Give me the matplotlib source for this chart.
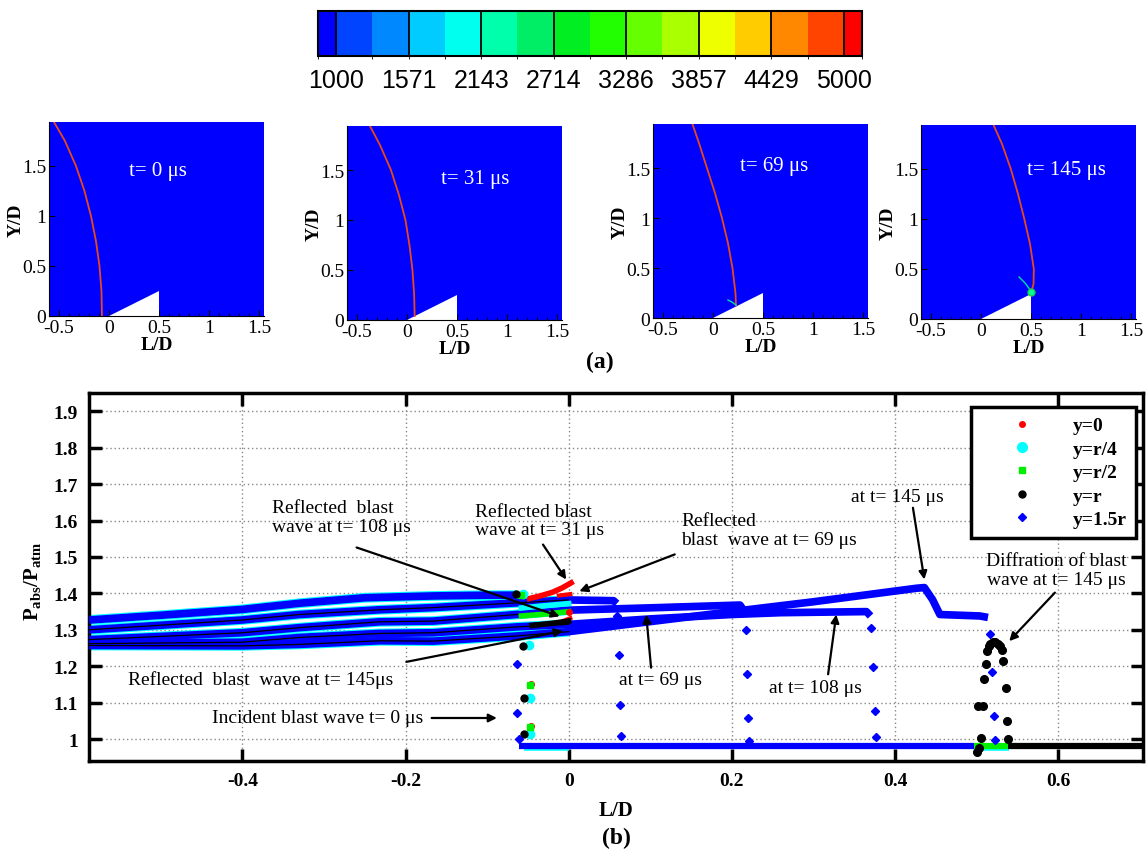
import numpy as np
import matplotlib
matplotlib.use('Agg')
import matplotlib.pyplot as plt
from matplotlib.colors import ListedColormap, BoundaryNorm
from matplotlib.cm import ScalarMappable
from matplotlib.lines import Line2D

plt.rcParams['font.family'] = 'serif'
plt.rcParams['font.serif'] = ['Liberation Serif', 'DejaVu Serif']
plt.rcParams['mathtext.fontset'] = 'custom'
plt.rcParams['mathtext.rm'] = 'Liberation Serif'
plt.rcParams['mathtext.bf'] = 'Liberation Serif:bold'
plt.rcParams['mathtext.it'] = 'Liberation Serif:italic'

# ---- (a) contour legend -------------------------------------------------
cbar_ticks = [1000, 1571, 2143, 2714, 3286, 3857, 4429, 5000]
cbar_colors = ['#0000ff', '#0044ff', '#0088ff', '#00ccff', '#00ffee', '#00ffaa',
               '#00ee66', '#00ee22', '#22ff00', '#66ff00', '#aaff00', '#eeff00',
               '#ffcc00', '#ff8800', '#ff4400', '#ff0000']

# ---- (a) shock front position (L/D, Y/D) in the four snapshots ----------
panel_labels = ['t= 0 μs', 't= 31 μs', 't= 69 μs', 't= 145 μs']
shock0_x = [-0.07, -0.075, -0.095, -0.13, -0.18, -0.245, -0.33, -0.44, -0.55]
shock0_y = [0.0, 0.25, 0.5, 0.75, 1.0, 1.25, 1.5, 1.75, 1.94]
shock31_x = [0.077, 0.072, 0.055, 0.025, -0.015, -0.08, -0.16, -0.27, -0.37]
shock31_y = [0.04, 0.25, 0.5, 0.75, 1.0, 1.25, 1.5, 1.75, 1.94]
shock69_x = [0.23, 0.225, 0.195, 0.15, 0.09, 0.02, -0.06, -0.14, -0.205]
shock69_y = [0.125, 0.25, 0.5, 0.75, 1.0, 1.25, 1.5, 1.75, 1.94]
shock145_x = [0.50, 0.525, 0.528, 0.49, 0.433, 0.37, 0.298, 0.21, 0.125]
shock145_y = [0.26, 0.35, 0.5, 0.75, 1.0, 1.25, 1.5, 1.75, 1.94]
refl69_x = [0.15, 0.19, 0.23]
refl69_y = [0.18, 0.16, 0.13]
refl145_x = [0.38, 0.44, 0.50]
refl145_y = [0.42, 0.36, 0.28]
wedge_x = [0.0, 0.5, 0.5]
wedge_y = [0.0, 0.0, 0.25]

# ---- (b) pressure along y=1.5r behind the blast wave --------------------
x_t0 = [-0.588, -0.50, -0.40, -0.33, -0.25, -0.166, -0.10, -0.064]
p_t0 = [1.327, 1.340, 1.356, 1.373, 1.388, 1.393, 1.395, 1.395]
x_t31 = [-0.588, -0.40, -0.33, -0.232, -0.166, -0.064, 0.0, 0.055, 0.059]
p_t31 = [1.300, 1.327, 1.342, 1.355, 1.361, 1.374, 1.382, 1.380, 1.372]
x_t69 = [-0.588, -0.40, -0.33, -0.232, -0.166, -0.064, 0.0, 0.095, 0.210, 0.215]
p_t69 = [1.273, 1.292, 1.306, 1.322, 1.324, 1.342, 1.354, 1.360, 1.368, 1.352]
x_t108 = [-0.588, -0.40, -0.33, -0.232, -0.166, -0.064, 0.0, 0.10, 0.20, 0.26, 0.365, 0.370]
p_t108 = [1.262, 1.266, 1.279, 1.290, 1.292, 1.308, 1.315, 1.330, 1.342, 1.347, 1.350, 1.338]
x_t145 = [-0.588, -0.40, -0.33, -0.232, -0.166, -0.064, 0.0, 0.20, 0.30, 0.426,
          0.436, 0.446, 0.455, 0.504, 0.514]
p_t145 = [1.257, 1.256, 1.260, 1.270, 1.269, 1.283, 1.295, 1.350, 1.377, 1.414,
          1.416, 1.383, 1.342, 1.338, 1.334]

# shock jumps (isolated points) for y=1.5r
blue_dot_x = [-0.0635, -0.063, -0.0615, 0.0597, 0.0613, 0.0625, 0.0646,
              0.217, 0.218, 0.220, 0.221, 0.371, 0.373, 0.375, 0.377,
              0.517, 0.519, 0.521, 0.523]
blue_dot_p = [1.207, 1.072, 1.000, 1.338, 1.230, 1.094, 1.009,
              1.300, 1.180, 1.058, 0.995, 1.304, 1.199, 1.076, 1.005,
              1.288, 1.183, 1.064, 0.998]
blue_amb_x = [-0.061, 0.497]
blue_amb_p = [0.982, 0.982]

# y=0 (red)
red_x = [-0.048, -0.035, -0.02, -0.008, 0.003]
red_p = [1.386, 1.393, 1.403, 1.415, 1.429]
red2_x = [-0.012, 0.002]
red2_p = [1.394, 1.398]
red3_x = [-0.006, 0.002]
red3_p = [1.325, 1.332]
red_dot_x = [-0.046, -0.046, 0.0]
red_dot_p = [1.152, 1.037, 1.348]

# y=r/4 (cyan)
cyan_x = [-0.058, -0.03, 0.0]
cyan_p = [1.360, 1.366, 1.372]
cyan_amb_x = [-0.055, 0.0]
cyan_amb_p = [0.976, 0.976]
cyan_amb2_x = [0.497, 0.54]
cyan_amb2_p = [0.975, 0.975]
cyan_dot_x = [-0.056, -0.049, -0.047, -0.047]
cyan_dot_p = [1.397, 1.258, 1.112, 1.014]

# y=r/2 (green)
green_x = [-0.058, -0.03, 0.0]
green_p = [1.338, 1.343, 1.350]
green_amb_x = [0.497, 0.538]
green_amb_p = [0.981, 0.981]
green_dot_x = [-0.058, -0.048, -0.047]
green_dot_p = [1.396, 1.148, 1.032]

# y=r (black)
black_x = [-0.045, -0.02, 0.0]
black_p = [1.312, 1.318, 1.324]
black_amb_x = [0.538, 0.704]
black_amb_p = [0.981, 0.981]
black_dot_x = [-0.064, -0.056, -0.055, -0.055]
black_dot_p = [1.397, 1.256, 1.112, 1.014]
hump_x = [0.501, 0.503, 0.506, 0.502, 0.508, 0.509, 0.511, 0.513, 0.515, 0.517, 0.520,
          0.523, 0.526, 0.529, 0.531, 0.533, 0.536, 0.537, 0.538]
hump_p = [0.965, 0.977, 1.002, 1.090, 1.090, 1.166, 1.205, 1.242, 1.255, 1.262, 1.266,
          1.266, 1.262, 1.255, 1.245, 1.215, 1.139, 1.050, 1.000]

BLUE = '#0000ff'
CYAN = '#00ffff'
GREEN = '#00ee00'

fig = plt.figure(figsize=(11.47, 8.53), dpi=100)

# colour bar
cax = fig.add_axes([0.2772, 0.9332, 0.4743, 0.0528])
edges = np.concatenate([[1000 - 142.86], np.linspace(1000, 5000, 15), [5000 + 142.86]])
cmap = ListedColormap(cbar_colors)
norm = BoundaryNorm(edges, cmap.N)
cb = fig.colorbar(ScalarMappable(norm=norm, cmap=cmap), cax=cax,
                  orientation='horizontal', ticks=cbar_ticks, spacing='proportional')
cb.set_ticklabels([str(t) for t in cbar_ticks])
cb.outline.set_linewidth(1.5)
cax.tick_params(length=0, pad=9, labelsize=18)
for lab in cax.get_xticklabels():
    lab.set_fontfamily('Liberation Sans')
for t in cbar_ticks:
    cax.axvline(t, color='k', lw=1.3)

# four snapshots
panel_left = [0.0427, 0.3025, 0.5693, 0.803]
panel_bottom = [0.6284, 0.6237, 0.626, 0.6249]
shocks = [(shock0_x, shock0_y), (shock31_x, shock31_y),
          (shock69_x, shock69_y), (shock145_x, shock145_y)]
label_pos = [(0.49, 1.45), (0.68, 1.42), (0.61, 1.53), (0.85, 1.49)]
for i in range(4):
    a = fig.add_axes([panel_left[i], panel_bottom[i], 0.1874, 0.2274])
    a.set_facecolor(BLUE)
    a.fill(wedge_x, wedge_y, color='white', lw=0, zorder=2)
    a.plot(*shocks[i], color='#e8481a', lw=1.3, zorder=3)
    if i == 2:
        a.plot(refl69_x, refl69_y, color='#00ddaa', lw=1.0, zorder=3)
    if i == 3:
        a.plot(refl145_x, refl145_y, color='#00ddaa', lw=1.0, zorder=3)
        a.plot([0.5], [0.265], 'o', color='#00ff99', mec='#22cc44', ms=5, zorder=4)
    a.text(*label_pos[i], panel_labels[i], color='white', fontsize=15,
           ha='center', va='center')
    a.set_xlim(-0.6, 1.55)
    a.set_ylim(0, 1.94)
    a.set_xticks([-0.5, 0, 0.5, 1, 1.5])
    a.set_xticklabels(['-0.5', '0', '0.5', '1', '1.5'])
    a.set_yticks([0, 0.5, 1, 1.5])
    a.set_yticklabels(['0', '0.5', '1', '1.5'])
    a.set_xticks(np.arange(-0.5, 1.55, 0.1), minor=True)
    a.tick_params(direction='in', length=4, labelsize=14, pad=2)
    a.tick_params(which='minor', direction='in', length=2)
    for s in ['top', 'right']:
        a.spines[s].set_visible(False)
    a.set_xlabel('L/D', fontsize=14, fontweight='bold', labelpad=0)
    a.set_ylabel('Y/D', fontsize=14, fontweight='bold')
    a.yaxis.set_label_coords(-0.115, 0.5)

fig.text(600 / 1147, 1 - 362 / 853, '(a)', fontsize=17, fontweight='bold',
         ha='center', va='center')

# ---- (b) -----------------------------------------------------------------
ax = fig.add_axes([0.0776, 0.1067, 0.9189, 0.4314])
profiles = [(x_t0, p_t0), (x_t31, p_t31), (x_t69, p_t69), (x_t108, p_t108), (x_t145, p_t145)]
for k, (xx, pp) in enumerate(profiles):
    xx = np.array(xx)
    pp = np.array(pp)
    m = xx <= 0.0
    ax.plot(xx[m], pp[m], color=CYAN, lw=7, zorder=2, solid_capstyle='butt')
    ax.plot(xx, pp, color=BLUE, lw=5.5, zorder=4, solid_capstyle='butt')
    if k > 0:
        ax.plot(xx[m], pp[m], color='k', lw=0.9, zorder=5)

ax.plot(cyan_amb_x, cyan_amb_p, color=CYAN, lw=4, zorder=3, solid_capstyle='butt')
ax.plot(cyan_amb2_x, cyan_amb2_p, color=CYAN, lw=4, zorder=3, solid_capstyle='butt')
ax.plot(blue_amb_x, blue_amb_p, color=BLUE, lw=4.5, zorder=4, solid_capstyle='butt')
ax.plot(green_amb_x, green_amb_p, color=GREEN, lw=4.5, zorder=4, solid_capstyle='butt')
ax.plot(black_amb_x, black_amb_p, color='k', lw=4.5, zorder=4, solid_capstyle='butt')

ax.plot(red_x, red_p, color='red', lw=4, zorder=6)
ax.plot(red2_x, red2_p, color='red', lw=3, zorder=6)
ax.plot(red3_x, red3_p, color='red', lw=3, zorder=6)
ax.plot(cyan_x, cyan_p, color=CYAN, lw=4, zorder=6)
ax.plot(green_x, green_p, color=GREEN, lw=4, zorder=6)
ax.plot(black_x, black_p, color='k', lw=4, zorder=6)

ax.plot(red_dot_x, red_dot_p, ls='', marker='o', ms=4, color='red', zorder=6)
ax.plot(cyan_dot_x, cyan_dot_p, ls='', marker='o', ms=6, color=CYAN, zorder=6)
ax.plot(green_dot_x, green_dot_p, ls='', marker='s', ms=4, color=GREEN, zorder=7)
ax.plot(black_dot_x, black_dot_p, ls='', marker='o', ms=5, color='k', zorder=7)
ax.plot(hump_x, hump_p, ls='', marker='o', ms=5.5, color='k', zorder=7)
ax.plot(blue_dot_x, blue_dot_p, ls='', marker='D', ms=4, color=BLUE, zorder=7)

ax.set_xlim(-0.588, 0.704)
ax.set_ylim(0.94, 1.95)
ax.set_xticks([-0.4, -0.2, 0, 0.2, 0.4, 0.6])
ax.set_xticklabels(['-0.4', '-0.2', '0', '0.2', '0.4', '0.6'])
yt = [1.0, 1.1, 1.2, 1.3, 1.4, 1.5, 1.6, 1.7, 1.8, 1.9]
ax.set_yticks(yt)
ax.set_yticklabels(['1', '1.1', '1.2', '1.3', '1.4', '1.5', '1.6', '1.7', '1.8', '1.9'])
ax.tick_params(direction='in', length=9, width=2.5, top=True, right=True,
               labelsize=14, pad=8)
for lab in ax.get_xticklabels() + ax.get_yticklabels():
    lab.set_fontweight('bold')
ax.grid(True, color='#888888', ls=(0, (1, 2)), lw=1)
ax.set_axisbelow(True)
for s in ax.spines.values():
    s.set_linewidth(2.5)
ax.set_xlabel('L/D', fontsize=15, fontweight='bold', labelpad=8)
ax.set_ylabel(r'$\mathbf{P}_{\mathbf{abs}}\mathbf{/P}_{\mathbf{atm}}$', fontsize=15)
ax.yaxis.set_label_coords(-0.044, 0.492)

# annotations
notes = [
    ('Reflected  blast\nwave at t= 108 μs', -0.364, 1.61, 'left', (-0.26, 1.526), (-0.011, 1.337)),
    ('Reflected blast\nwave at t= 31 μs', -0.115, 1.60, 'left', (-0.0315, 1.534), (-0.003, 1.438)),
    ('Reflected\nblast  wave at t= 69 μs', 0.138, 1.573, 'left', (0.13, 1.507), (0.013, 1.406)),
    ('at t= 145 μs', 0.403, 1.666, 'center', (0.422, 1.635), (0.436, 1.438)),
    ('Diffration of blast\nwave at t= 145 μs', 0.598, 1.464, 'center', (0.596, 1.402), (0.540, 1.269)),
    ('Reflected  blast  wave at t= 145μs', -0.540, 1.164, 'left', (-0.199, 1.212), (-0.007, 1.297)),
    ('Incident blast wave t= 0 μs', -0.4375, 1.058, 'left', (-0.168, 1.058), (-0.088, 1.058)),
    ('at t= 69 μs', 0.112, 1.164, 'center', (0.101, 1.196), (0.095, 1.342)),
    ('at t= 108 μs', 0.303, 1.142, 'center', (0.318, 1.178), (0.328, 1.342)),
]
for txt, tx, ty, ha, start, end in notes:
    ax.text(tx, ty, txt, fontsize=14, ha=ha, va='center', multialignment=ha,
            linespacing=1.15, zorder=8)
    ax.annotate('', xy=end, xytext=start, zorder=8,
                arrowprops=dict(arrowstyle='-|>', color='k', lw=1.6,
                                mutation_scale=12, shrinkA=0, shrinkB=0))

handles = [Line2D([], [], ls='', marker='o', ms=4, color='red', label='y=0'),
           Line2D([], [], ls='', marker='o', ms=7, color=CYAN, label='y=r/4'),
           Line2D([], [], ls='', marker='s', ms=4, color=GREEN, label='y=r/2'),
           Line2D([], [], ls='', marker='o', ms=5, color='k', label='y=r'),
           Line2D([], [], ls='', marker='D', ms=4, color=BLUE, label='y=1.5r')]
leg = ax.legend(handles=handles, loc='upper right',
                bbox_to_anchor=(1136 / 1147, 1 - 408 / 853), bbox_transform=fig.transFigure,
                borderaxespad=0, fancybox=False, edgecolor='k', framealpha=1,
                prop={'weight': 'bold', 'size': 14}, handlelength=4.2,
                handletextpad=0.5, borderpad=0.5, labelspacing=0.3)
leg.get_frame().set_linewidth(2.5)
leg.set_zorder(10)

fig.text(616 / 1147, 1 - 838 / 853, '(b)', fontsize=17, fontweight='bold',
         ha='center', va='center')

fig.savefig('out.png', dpi=100)
